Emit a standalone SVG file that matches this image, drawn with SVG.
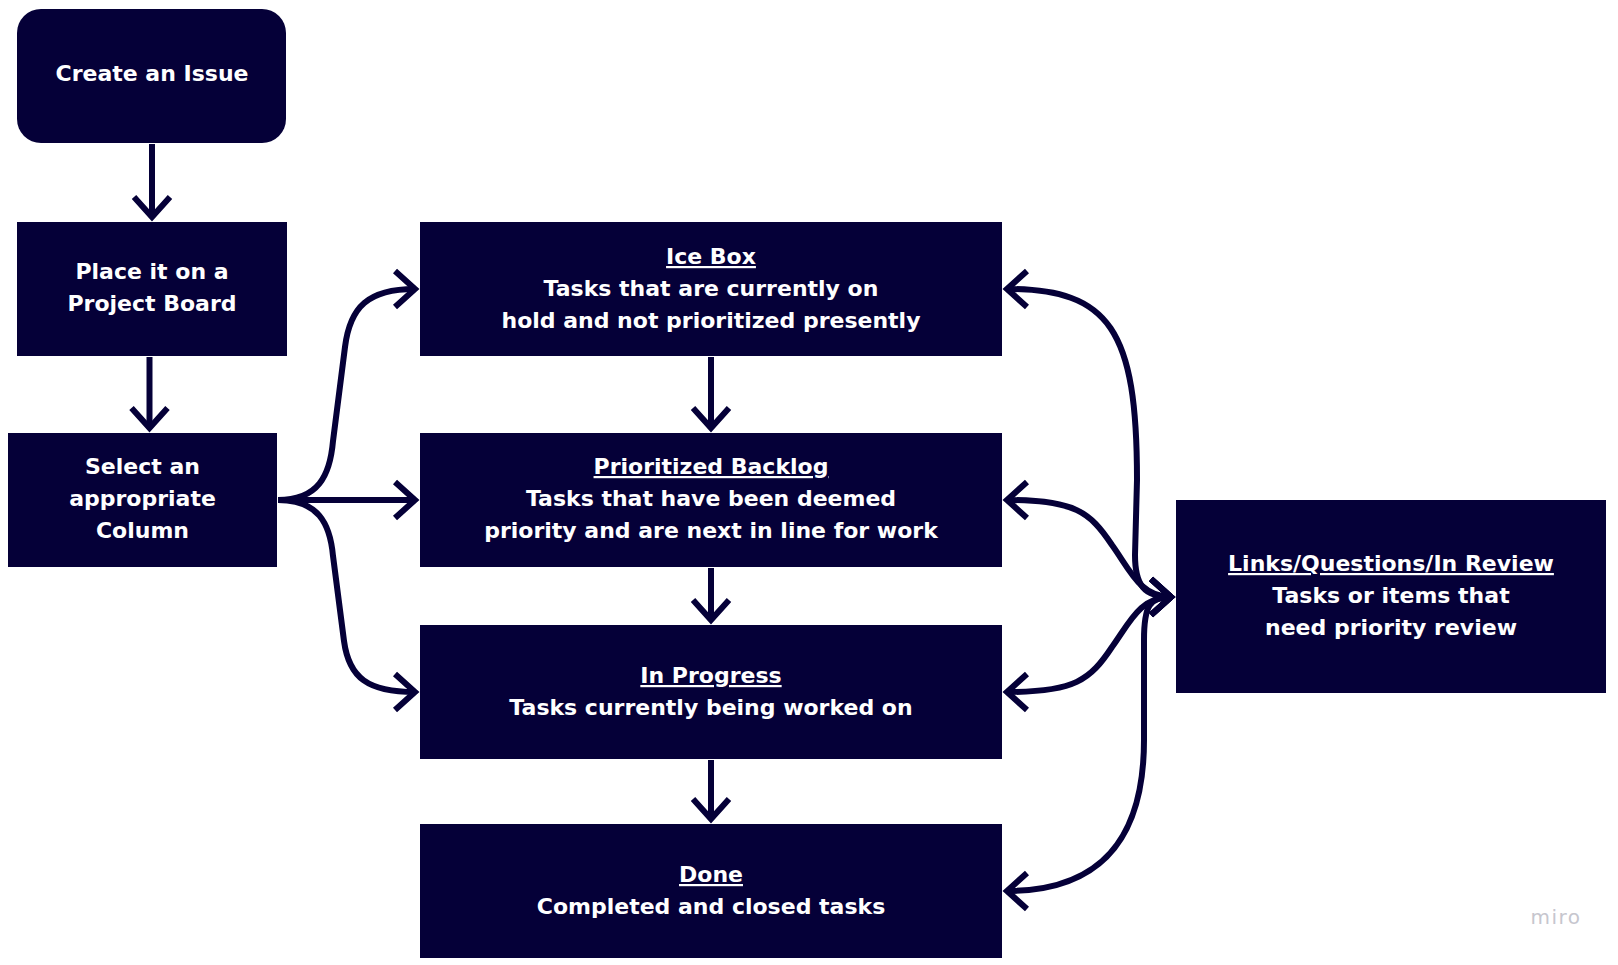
<svg xmlns="http://www.w3.org/2000/svg" width="1618" height="965" viewBox="0 0 1618 965">
<defs>
<style>
.box{fill:#050038}
.t{fill:#ffffff;font-family:"DejaVu Sans",sans-serif;font-weight:bold;font-size:22px;text-anchor:middle}
.u{text-decoration:underline}
.c{fill:none;stroke:#050038;stroke-width:6}
.logo{fill:#c6c6ce;font-family:"DejaVu Sans",sans-serif;font-size:20px;letter-spacing:1.5px;text-anchor:middle}
</style>
<marker id="ah" markerUnits="userSpaceOnUse" viewBox="-30 -30 60 60" markerWidth="60" markerHeight="60" refX="0" refY="0" orient="auto-start-reverse" overflow="visible">
<path d="M-20,-18 L0,0 L-20,18" fill="none" stroke="#050038" stroke-width="6"/>
</marker>
</defs>
<rect width="1618" height="965" fill="#ffffff"/>
<g id="create">
<rect class="box" x="17" y="9" width="269" height="134" rx="24"/>
<text class="t" x="152" y="81">Create an Issue</text>
</g>
<g id="place">
<rect class="box" x="17" y="222" width="270" height="134"/>
<text class="t" x="152" y="279">Place it on a</text>
<text class="t" x="152" y="311">Project Board</text>
</g>
<g id="select">
<rect class="box" x="8" y="433" width="269" height="134"/>
<text class="t" x="142.5" y="474">Select an</text>
<text class="t" x="142.5" y="506">appropriate</text>
<text class="t" x="142.5" y="538">Column</text>
</g>
<g id="icebox">
<rect class="box" x="420" y="222" width="582" height="134"/>
<text class="t u" x="711" y="264">Ice Box</text>
<text class="t" x="711" y="296">Tasks that are currently on</text>
<text class="t" x="711" y="328">hold and not prioritized presently</text>
</g>
<g id="backlog">
<rect class="box" x="420" y="433" width="582" height="134"/>
<text class="t u" x="711" y="474">Prioritized Backlog</text>
<text class="t" x="711" y="506">Tasks that have been deemed</text>
<text class="t" x="711" y="538">priority and are next in line for work</text>
</g>
<g id="inprogress">
<rect class="box" x="420" y="625" width="582" height="134"/>
<text class="t u" x="711" y="683">In Progress</text>
<text class="t" x="711" y="715">Tasks currently being worked on</text>
</g>
<g id="done">
<rect class="box" x="420" y="824" width="582" height="134"/>
<text class="t u" x="711" y="882">Done</text>
<text class="t" x="711" y="914">Completed and closed tasks</text>
</g>
<g id="links">
<rect class="box" x="1176" y="500" width="430" height="193"/>
<text class="t u" x="1391" y="571">Links/Questions/In Review</text>
<text class="t" x="1391" y="603">Tasks or items that</text>
<text class="t" x="1391" y="635">need priority review</text>
</g>
<g id="connectors">
<path class="c" marker-end="url(#ah)" d="M152,144 L152,217"/>
<path class="c" marker-end="url(#ah)" d="M149.5,357 L149.5,428"/>
<path class="c" marker-end="url(#ah)" d="M711,357 L711,428"/>
<path class="c" marker-end="url(#ah)" d="M711,568 L711,620"/>
<path class="c" marker-end="url(#ah)" d="M711,760 L711,819"/>
<path class="c" marker-end="url(#ah)" d="M278,500 C318,500 330,476 333,441 L345,347 C350,307 368,289 415,289"/>
<path class="c" marker-end="url(#ah)" d="M278,500 L415,500"/>
<path class="c" marker-end="url(#ah)" d="M278,500 C318,500 330,523 333,556 L344,641 C349,678 368,692 415,692"/>
<path class="c" marker-start="url(#ah)" marker-end="url(#ah)" d="M1171,597 C1144,597 1135,585 1135,555 L1137,480 C1137,330 1110,289 1007,289"/>
<path class="c" marker-start="url(#ah)" marker-end="url(#ah)" d="M1171,597 C1140,597 1130,570 1112,545 C1090,512 1075,500 1007,500"/>
<path class="c" marker-start="url(#ah)" marker-end="url(#ah)" d="M1171,597 C1140,597 1130,622 1112,647 C1090,680 1075,692 1007,692"/>
<path class="c" marker-start="url(#ah)" marker-end="url(#ah)" d="M1171,597 C1150,597 1144,605 1144,640 L1144,740 C1144,840 1100,891 1007,891"/>
</g>
<text class="logo" x="1556" y="924">miro</text>
</svg>
